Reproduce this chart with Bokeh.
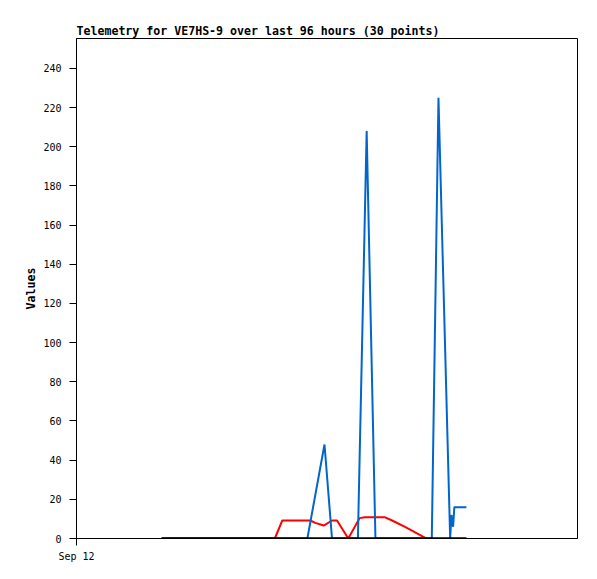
from bokeh.plotting import figure
from bokeh.models import Range1d, FixedTicker
from bokeh.embed import file_html
from bokeh.resources import INLINE

# hours since Sep 12 00:00
blue_hours = [20.4, 55.3, 59.4, 61.2, 67.4, 69.5, 71.6, 85.1, 86.7, 89.5, 89.8, 90.2, 90.5, 93.4]
blue_values = [0, 0, 48, 0, 0, 208, 0, 0, 225, 0, 12, 6, 16, 16]

red_hours = [20.4, 47.5, 49.3, 56.0, 57.2, 59.2, 61.2, 62.4, 65.1, 67.8, 69.0, 73.8, 75.6, 78.8, 83.2, 83.8]
red_values = [0, 0, 9.2, 9.2, 8.0, 6.6, 9.2, 9.2, 0, 10.4, 10.9, 10.9, 9.2, 5.8, 0.7, 0]

black_hours = [20.4, 93.4]
black_values = [0, 0]

y_ticks = [0, 20, 40, 60, 80, 100, 120, 140, 160, 180, 200, 220, 240]
x_ticks = [0]
x_tick_labels = {0: "Sep 12"}

title_text = "Telemetry for VE7HS-9 over last 96 hours (30 points)"

p = figure(width=589, height=564, output_backend="svg", toolbar_location=None,
           x_range=Range1d(0, 120), y_range=Range1d(0, 255.3),
           min_border_left=76, min_border_right=12, min_border_top=38, min_border_bottom=26,
           title=title_text)

p.title.text_font = "DejaVu Sans Mono"
p.title.text_font_size = "11.6px"
p.title.text_font_style = "bold"
p.title.align = "left"
p.title.standoff = 2
p.title.text_color = "black"

p.outline_line_color = "black"
p.outline_line_width = 1
p.xgrid.visible = False
p.ygrid.visible = False
p.background_fill_color = "white"
p.border_fill_color = "white"

p.line(red_hours, red_values, line_color="#ff0000", line_width=2)
p.line(blue_hours, blue_values, line_color="#0066cc", line_width=2)
p.line(black_hours, black_values, line_color="black", line_width=2.5)

p.yaxis.ticker = FixedTicker(ticks=y_ticks)
p.yaxis.minor_tick_line_color = None
p.yaxis.major_tick_out = 7
p.yaxis.major_tick_in = 0
p.yaxis.major_label_standoff = 8
p.yaxis.major_label_text_font = "DejaVu Sans Mono"
p.yaxis.major_label_text_font_size = "10px"
p.yaxis.major_label_text_color = "black"
p.yaxis.axis_label = "Values"
p.yaxis.axis_label_text_font = "DejaVu Sans Mono"
p.yaxis.axis_label_text_font_size = "11.6px"
p.yaxis.axis_label_text_font_style = "bold"
p.yaxis.axis_label_text_color = "black"
p.yaxis.axis_label_standoff = 2
p.yaxis.axis_line_color = "black"
p.yaxis.major_tick_line_color = "black"

p.xaxis.ticker = FixedTicker(ticks=x_ticks)
p.xaxis.major_label_overrides = x_tick_labels
p.xaxis.minor_tick_line_color = None
p.xaxis.major_tick_out = 7
p.xaxis.major_tick_in = 0
p.xaxis.major_label_standoff = 5
p.xaxis.major_label_text_font = "DejaVu Sans Mono"
p.xaxis.major_label_text_font_size = "10px"
p.xaxis.major_label_text_color = "black"
p.xaxis.axis_line_color = "black"
p.xaxis.major_tick_line_color = "black"

open("out.html", "w").write(file_html(p, INLINE))
